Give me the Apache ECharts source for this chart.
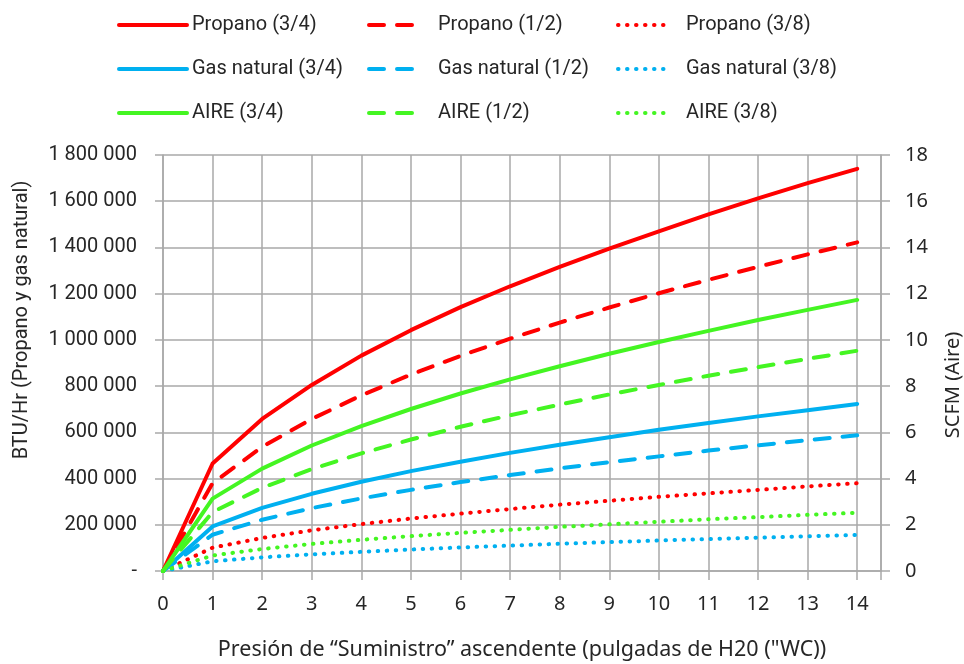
<!DOCTYPE html>
<html>
<head>
<meta charset="utf-8">
<script src="https://cdn.jsdelivr.net/npm/echarts@6/dist/echarts.min.js"></script>
<style>
  html, body { margin: 0; padding: 0; background: #fff; }
  #chart { width: 964px; height: 664px; }
</style>
</head>
<body>
<div id="chart"></div>
<script>
var pressure = [0, 1, 2, 3, 4, 5, 6, 7, 8, 9, 10, 11, 12, 13, 14];

// BTU/Hr, left axis
var propano34 = [0, 465000, 658000, 805000, 932000, 1042000, 1142000, 1232000, 1316000, 1395000, 1470000, 1543000, 1612000, 1678000, 1740000];
var propano12 = [0, 380000, 537000, 658000, 760000, 850000, 931000, 1005000, 1075000, 1140000, 1202000, 1260000, 1316000, 1370000, 1422000];
var propano38 = [0, 101000, 143000, 176000, 203000, 227000, 248000, 268000, 287000, 304000, 321000, 336000, 351000, 366000, 380000];
var gas34 = [0, 193000, 273000, 334000, 386000, 432000, 473000, 511000, 546000, 579000, 611000, 640000, 669000, 696000, 723000];
var gas12 = [0, 157000, 222000, 272000, 314000, 351000, 385000, 415000, 444000, 471000, 496000, 521000, 544000, 566000, 587000];
var gas38 = [0, 42000, 59000, 72000, 83000, 93000, 102000, 110000, 118000, 125000, 132000, 138000, 144000, 150000, 156000];

// SCFM, right axis
var aire34 = [0, 3.13, 4.43, 5.43, 6.27, 7.01, 7.68, 8.29, 8.86, 9.40, 9.91, 10.39, 10.86, 11.30, 11.73];
var aire12 = [0, 2.55, 3.60, 4.41, 5.09, 5.69, 6.24, 6.74, 7.20, 7.64, 8.05, 8.45, 8.82, 9.18, 9.53];
var aire38 = [0, 0.67, 0.95, 1.17, 1.35, 1.51, 1.65, 1.78, 1.91, 2.02, 2.13, 2.24, 2.33, 2.43, 2.52];

var red = '#ff0000', blue = '#00b0f0', green = '#44f522';
var gridColor = '#a9a9a9';
var solid = 'solid', dashed = [15, 13], dotted = [0.5, 8.5];

function pairs(vals) {
    return pressure.map(function (x, i) { return [x, vals[i]]; });
}

function line(name, vals, color, dash, axis) {
    return {
        name: name,
        type: 'line',
        yAxisIndex: axis,
        data: pairs(vals),
        symbol: 'none',
        color: color,
        lineStyle: { color: color, width: 4, type: dash, cap: 'round', join: 'round' }
    };
}

function legendCol(left, width, pad, names) {
    return {
        orient: 'vertical',
        left: left,
        top: 8,
        itemWidth: width,
        itemHeight: 14,
        itemGap: 20,
        data: names,
        itemStyle: { opacity: 0 },
        lineStyle: { width: 4 },
        textStyle: { fontFamily: 'Roboto', fontSize: 20, color: '#262626', lineHeight: 24, padding: [0, 0, 0, pad] }
    };
}

function btu(v) {
    if (v === 0) return '-';
    return String(v).replace(/\B(?=(\d{3})+(?!\d))/g, ' ');
}

var chart = echarts.init(document.getElementById('chart'));

var option = {
    animation: false,
    backgroundColor: '#fff',
    legend: [
        legendCol(112, 68, 0, ['Propano (3/4)', 'Gas natural (3/4)', 'AIRE (3/4)']),
        legendCol(362, 53, 11, ['Propano (1/2)', 'Gas natural (1/2)', 'AIRE (1/2)']),
        legendCol(611, 54, 9, ['Propano (3/8)', 'Gas natural (3/8)', 'AIRE (3/8)'])
    ],
    grid: { left: 163, right: 83, top: 155, bottom: 93, containLabel: false, outerBoundsMode: 'none' },
    xAxis: {
        type: 'value',
        min: 0,
        max: 14.48,
        interval: 1,
        name: 'Presión de “Suministro” ascendente (pulgadas de H20 ("WC))',
        nameLocation: 'middle',
        nameGap: 68,
        nameTextStyle: { fontFamily: 'Noto Sans', fontSize: 21.5, color: '#262626' },
        axisLine: { show: true, lineStyle: { color: gridColor, width: 1.5 } },
        axisTick: { show: true, length: 9, lineStyle: { color: gridColor, width: 1.5 } },
        axisLabel: {
            margin: 23,
            fontFamily: 'Noto Sans',
            fontSize: 20,
            color: '#262626',
            formatter: function (v) { return Number.isInteger(v) ? String(v) : ''; }
        },
        splitLine: { show: true, lineStyle: { color: gridColor, width: 1.5 } }
    },
    yAxis: [
        {
            type: 'value',
            position: 'left',
            min: 0,
            max: 1800000,
            interval: 200000,
            name: 'BTU/Hr (Propano y gas natural)',
            nameLocation: 'middle',
            nameRotate: 90,
            nameGap: 131,
            nameTextStyle: { fontFamily: 'Roboto', fontSize: 20, color: '#262626', padding: [0, 0, 0, 86] },
            axisLine: { show: true, lineStyle: { color: gridColor, width: 1.5 } },
            axisTick: { show: true, length: 8, lineStyle: { color: gridColor, width: 1.5 } },
            axisLabel: { margin: 26, fontFamily: 'Roboto', fontSize: 20, color: '#262626', formatter: btu },
            splitLine: { show: true, lineStyle: { color: gridColor, width: 1.5 } }
        },
        {
            type: 'value',
            position: 'right',
            min: 0,
            max: 18,
            interval: 2,
            name: 'SCFM (Aire)',
            nameLocation: 'middle',
            nameRotate: 90,
            nameGap: 62,
            nameTextStyle: { fontFamily: 'Noto Sans', fontSize: 20, color: '#262626', padding: [0, 44, 0, 0] },
            axisLine: { show: true, lineStyle: { color: gridColor, width: 1.5 } },
            axisTick: { show: true, length: 9, lineStyle: { color: gridColor, width: 1.5 } },
            axisLabel: { margin: 24, fontFamily: 'Noto Sans', fontSize: 20, color: '#262626' },
            splitLine: { show: false }
        }
    ],
    series: [
        line('Propano (3/4)', propano34, red, solid, 0),
        line('Propano (1/2)', propano12, red, dashed, 0),
        line('Propano (3/8)', propano38, red, dotted, 0),
        line('Gas natural (3/4)', gas34, blue, solid, 0),
        line('Gas natural (1/2)', gas12, blue, dashed, 0),
        line('Gas natural (3/8)', gas38, blue, dotted, 0),
        line('AIRE (3/4)', aire34, green, solid, 1),
        line('AIRE (1/2)', aire12, green, dashed, 1),
        line('AIRE (3/8)', aire38, green, dotted, 1)
    ]
};

chart.setOption(option);
</script>
</body>
</html>
